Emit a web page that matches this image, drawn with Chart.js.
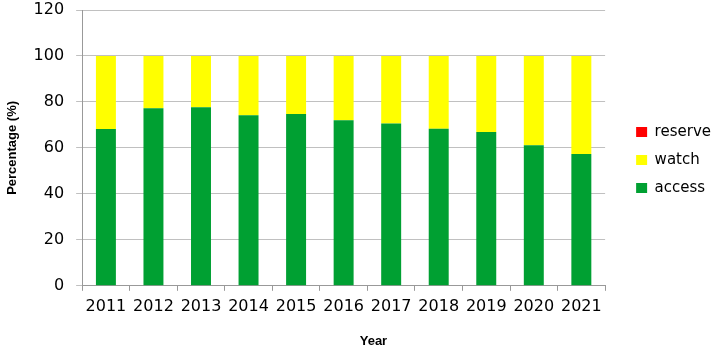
<!DOCTYPE html>
<html>
<head>
<meta charset="utf-8">
<script src="https://cdn.jsdelivr.net/npm/chart.js@4/dist/chart.umd.min.js"></script>
<style>
html,body{margin:0;padding:0;background:#fff;}
#wrap{width:714px;height:348px;position:relative;}
</style>
</head>
<body>
<div id="wrap"><canvas id="c" width="714" height="348"></canvas></div>
<script>
const years = ['2011','2012','2013','2014','2015','2016','2017','2018','2019','2020','2021'];
const access = [68.2, 77.3, 77.7, 74.2, 74.7, 72.0, 70.6, 68.3, 66.9, 61.1, 57.3];
const watch = [31.8, 22.7, 22.3, 25.8, 25.3, 28.0, 29.4, 31.7, 33.1, 38.9, 42.7];
const reserve = [0, 0, 0, 0, 0, 0, 0, 0, 0, 0, 0];
const yTicks = [0, 20, 40, 60, 80, 100, 120];

const xTitlePlugin = {
  id: 'xTitle',
  afterInit(chart) {
    const lg = chart.legend;
    if (!lg) return;
    const ofit = lg.fit.bind(lg);
    lg.fit = function () { ofit(); this.width += 11; };
    const odraw = lg.draw.bind(lg);
    lg.draw = function (a) { const c = this.ctx; c.save(); c.translate(18, -1); odraw(a); c.restore(); };
  },
  afterDraw(chart) {
    const ctx = chart.ctx;
    ctx.save();
    ctx.font = 'bold 13px "Liberation Sans", Arial, sans-serif';
    ctx.fillStyle = '#000';
    ctx.textAlign = 'center';
    ctx.textBaseline = 'middle';
    ctx.fillText('Year', chart.chartArea.left + (chart.chartArea.right - chart.chartArea.left) * 0.557, 341);
    ctx.restore();
  }
};

new Chart(document.getElementById('c'), {
  type: 'bar',
  data: {
    labels: years,
    datasets: [
      {label: 'access', data: access, backgroundColor: '#00A032'},
      {label: 'watch', data: watch, backgroundColor: '#FFFF00'},
      {label: 'reserve', data: reserve, backgroundColor: '#FF0000'}
    ]
  },
  options: {
    responsive: false,
    animation: false,
    layout: {padding: {top: 0, bottom: 26, left: 5, right: 0}},
    datasets: {bar: {barPercentage: 0.42, categoryPercentage: 1.0, borderWidth: 0}},
    plugins: {
      tooltip: {enabled: false},
      legend: {
        position: 'right',
        reverse: true,
        labels: {
          boxWidth: 11, boxHeight: 10, padding: 13,
          color: '#000',
          font: {family: '"DejaVu Sans", Verdana, sans-serif', size: 15}
        }
      }
    },
    scales: {
      x: {
        stacked: true,
        grid: {display: true, drawOnChartArea: false, drawTicks: true, tickLength: 5, color: '#999', offset: true},
        border: {color: '#999'},
        ticks: {color: '#000', padding: 6, font: {family: '"DejaVu Sans", Verdana, sans-serif', size: 16}, maxRotation: 0}
      },
      y: {
        stacked: true,
        min: 0, max: 120,
        afterBuildTicks(axis) { axis.ticks = yTicks.map(v => ({value: v})); },
        afterFit(axis) { axis.paddingTop = 10; axis.paddingBottom = 10; },
        grid: {color: '#c0c0c0', tickLength: 6},
        border: {color: '#999'},
        ticks: {color: '#000', padding: 12, font: {family: '"DejaVu Sans", Verdana, sans-serif', size: 16}},
        title: {display: true, text: 'Percentage (%)', color: '#000', padding: {top: 0, bottom: 1}, font: {family: '"Liberation Sans", Arial, sans-serif', size: 13, weight: 'bold'}}
      }
    }
  },
  plugins: [xTitlePlugin]
});
</script>
</body>
</html>
